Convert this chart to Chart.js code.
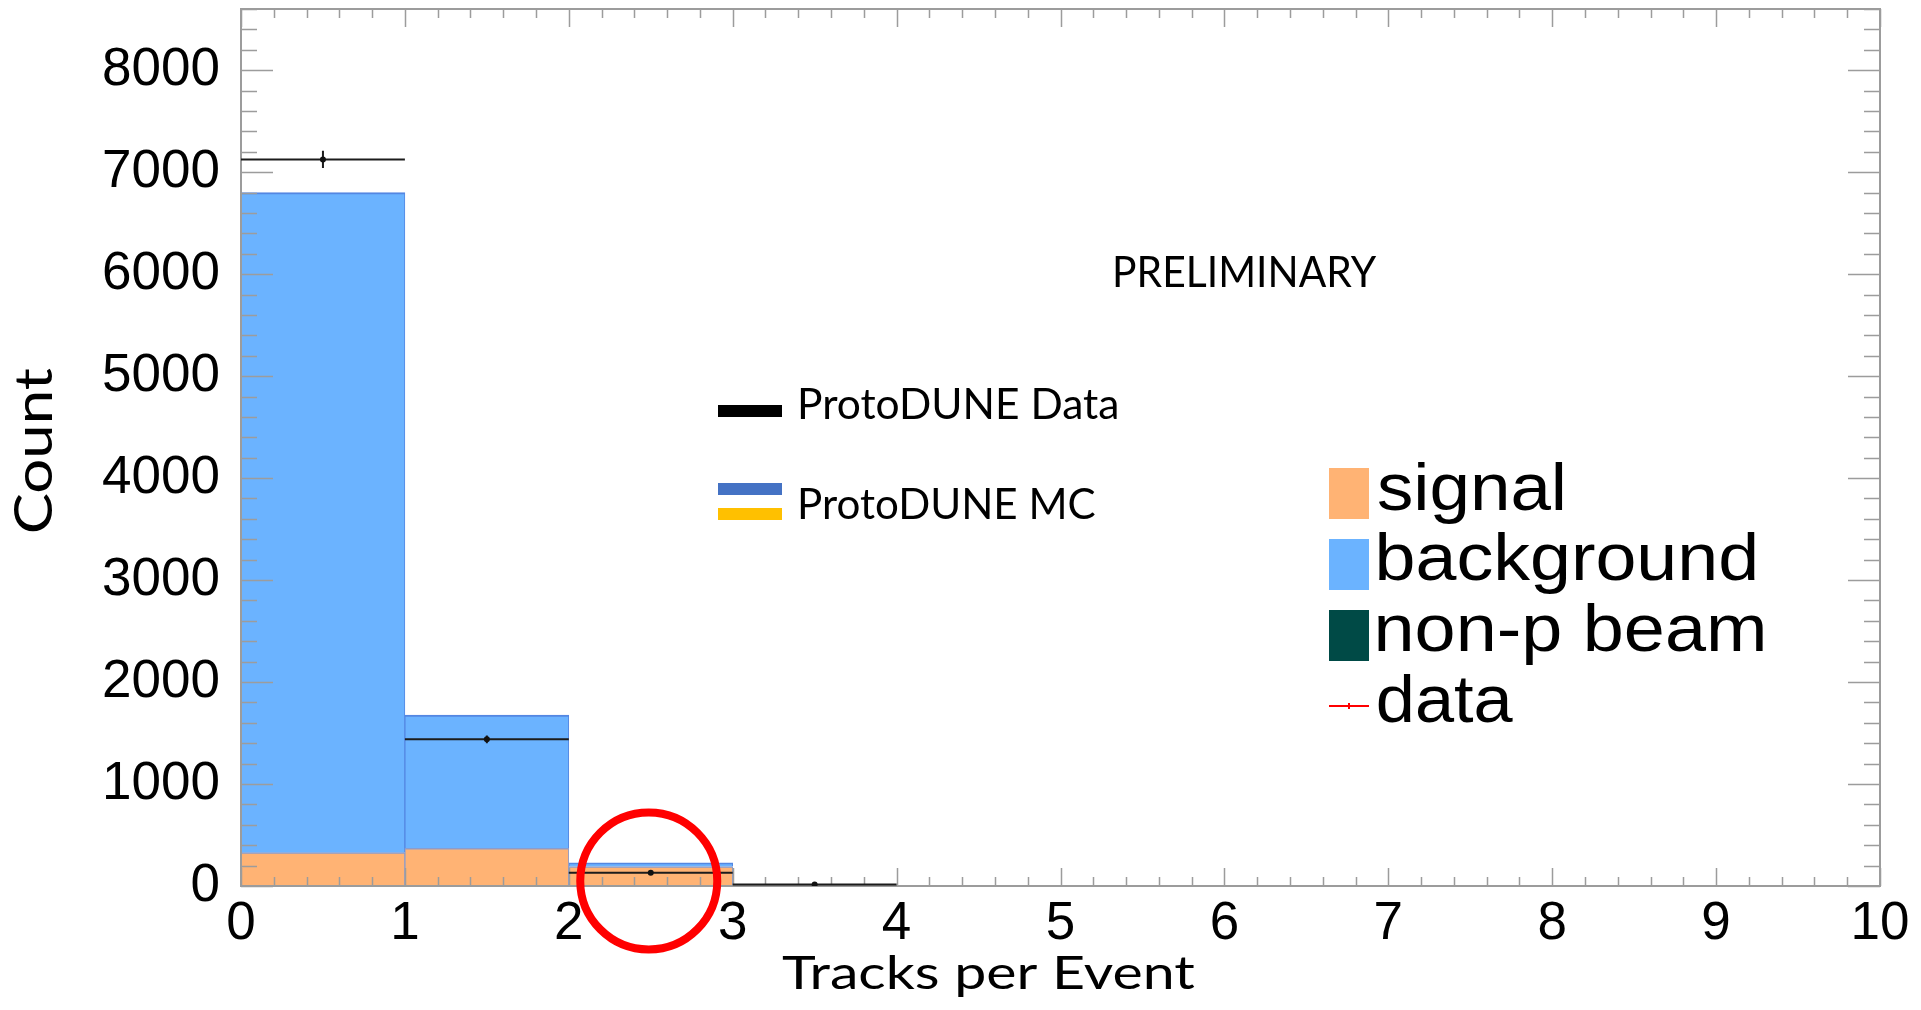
<!DOCTYPE html>
<html>
<head>
<meta charset="utf-8">
<title>Tracks per Event</title>
<script src="https://cdn.jsdelivr.net/npm/chart.js@4.4.1/dist/chart.umd.min.js"></script>
<style>
  html, body { margin: 0; padding: 0; background: #ffffff; overflow: hidden; }
  #wrap { position: absolute; left: 0; top: 0; width: 1921px; height: 1010px; }
</style>
</head>
<body>
<div id="wrap"><canvas id="c" width="1921" height="1010"></canvas></div>
<script>
// Histogram bins (tracks per event)
const binEdges = [0, 1, 2, 3, 4];

// Monte Carlo stack, counts per bin
const nonProtonBeamCounts = [0, 0, 0, 0];
const signalCounts = [327, 369, 190, 0];
const backgroundCounts = [6473, 1307, 38, 0];

// ProtoDUNE data, counts and statistical errors per bin
const dataCounts = [7125, 1438, 131, 15];
const dataErrors = [84, 38, 11, 4];

// Axis tick labels
const xTickLabels = ['0', '1', '2', '3', '4', '5', '6', '7', '8', '9', '10'];
const yTickLabels = ['0', '1000', '2000', '3000', '4000', '5000', '6000', '7000', '8000'];

const binCenters = binEdges.slice(0, -1).map((lo, i) => (lo + binEdges[i + 1]) / 2);
const asBars = (counts) => counts.map((v, i) => ({ x: binCenters[i], y: v }));

// Horizontal bars spanning each bin at the data value (gaps between bins)
const dataBinSegments = [];
dataCounts.forEach((v, i) => {
  dataBinSegments.push({ x: binEdges[i], y: v }, { x: binEdges[i + 1], y: v }, { x: binEdges[i + 1], y: null });
});
// Vertical error bars at bin centres
const dataErrorSegments = [];
dataCounts.forEach((v, i) => {
  dataErrorSegments.push({ x: binCenters[i], y: v - dataErrors[i] }, { x: binCenters[i], y: v + dataErrors[i] }, { x: binCenters[i], y: null });
});

const COLORS = {
  signal: '#ffb374',
  background: '#6bb3ff',
  nonp: '#004a46',
  axis: '#9c9c9c'
};

// Draws ink-fitted text: left edge of glyphs at `left`, baseline at `base`
function fitText(ctx, text, font, left, base, inkWidth) {
  ctx.save();
  ctx.font = font;
  ctx.textAlign = 'left';
  ctx.textBaseline = 'alphabetic';
  const m = ctx.measureText(text);
  const w = m.actualBoundingBoxLeft + m.actualBoundingBoxRight;
  ctx.translate(left, base);
  ctx.scale(inkWidth / w, 1);
  ctx.fillStyle = '#000';
  ctx.fillText(text, m.actualBoundingBoxLeft, 0);
  ctx.restore();
}

// ROOT-style frame with ticks on all four sides
function drawFrame(chart) {
  const { ctx, chartArea: a, scales: { x, y } } = chart;
  ctx.save();
  ctx.strokeStyle = COLORS.axis;
  ctx.lineWidth = 1.5;
  ctx.beginPath();
  for (let i = 0; i <= 50; i++) {
    const px = Math.round(x.getPixelForValue(i / 5)) + 0.5;
    const len = i % 5 === 0 ? 18 : 9;
    ctx.moveTo(px, a.top); ctx.lineTo(px, a.top + len);
    ctx.moveTo(px, a.bottom); ctx.lineTo(px, a.bottom - len);
  }
  for (let i = 0; i <= 43; i++) {
    const py = Math.round(y.getPixelForValue(i * 200)) + 0.5;
    const len = i % 5 === 0 ? 32 : 16;
    ctx.moveTo(a.left, py); ctx.lineTo(a.left + len, py);
    ctx.moveTo(a.right, py); ctx.lineTo(a.right - len, py);
  }
  ctx.stroke();
  ctx.lineWidth = 2;
  ctx.strokeRect(a.left, a.top, a.right - a.left, a.bottom - a.top);
  ctx.restore();
}

const framePlugin = {
  id: 'frame',
  afterDatasetDraw(chart, args) {
    if (chart.data.datasets[args.index].label === 'non-p beam') drawFrame(chart);
  }
};

const annotationPlugin = {
  id: 'annotations',
  afterDraw(chart) {
    const { ctx, scales: { x, y } } = chart;
    const calibri = (s) => `${s}px Lato, "Open Sans", sans-serif`;
    const helv = (s) => `${s}px "Liberation Sans", Arial, sans-serif`;

    // Axis titles
    fitText(ctx, 'Tracks per Event', calibri(47), 782, 989, 413);
    ctx.save();
    ctx.translate(52, 532);
    ctx.rotate(-Math.PI / 2);
    fitText(ctx, 'Count', calibri(53), 0, 0, 164);
    ctx.restore();

    fitText(ctx, 'PRELIMINARY', calibri(42), 1115, 287, 262);

    // ProtoDUNE key
    ctx.save();
    ctx.fillStyle = '#000000';
    ctx.fillRect(718, 405, 64, 12);
    ctx.fillStyle = '#4472c4';
    ctx.fillRect(718, 483, 64, 12);
    ctx.fillStyle = '#ffc000';
    ctx.fillRect(718, 508, 64, 12);
    ctx.restore();
    fitText(ctx, 'ProtoDUNE Data', calibri(43), 800, 419, 317);
    fitText(ctx, 'ProtoDUNE MC', calibri(43), 800, 519, 295);

    // Stack legend
    ctx.save();
    ctx.fillStyle = COLORS.signal;
    ctx.fillRect(1329, 468, 40, 51);
    ctx.fillStyle = COLORS.background;
    ctx.fillRect(1329, 539, 40, 51);
    ctx.fillStyle = COLORS.nonp;
    ctx.fillRect(1329, 610, 40, 51);
    ctx.strokeStyle = '#ff0000';
    ctx.lineWidth = 2;
    ctx.beginPath();
    ctx.moveTo(1329, 706); ctx.lineTo(1369, 706);
    ctx.moveTo(1349, 703); ctx.lineTo(1349, 709);
    ctx.stroke();
    ctx.restore();
    fitText(ctx, 'signal', helv(66), 1378, 510, 185);
    fitText(ctx, 'background', helv(66), 1379, 580, 376);
    fitText(ctx, 'non-p beam', helv(66), 1378, 651, 385);
    fitText(ctx, 'data', helv(66), 1378, 722, 135);

    // Highlight ring around the 2-track bin
    ctx.save();
    ctx.strokeStyle = '#ff0000';
    ctx.lineWidth = 8;
    ctx.beginPath();
    ctx.arc(x.getPixelForValue(2.5) - 2, y.getPixelForValue(50), 68.5, 0, Math.PI * 2);
    ctx.stroke();
    ctx.restore();
  }
};

const tickFont = { family: '"Liberation Sans", Arial, sans-serif', size: 53, lineHeight: 1 };

new Chart(document.getElementById('c'), {
  type: 'bar',
  data: {
    datasets: [
      {
        type: 'line', label: 'data points', data: asBars(dataCounts), yAxisID: 'yData',
        showLine: false, pointRadius: 3, pointBackgroundColor: '#111', pointBorderWidth: 0, order: 0
      },
      {
        type: 'line', label: 'data errors', data: dataErrorSegments, yAxisID: 'yData',
        borderColor: '#1c1c1c', borderWidth: 2, pointRadius: 0, spanGaps: false, order: 1
      },
      {
        type: 'line', label: 'data', data: dataBinSegments, yAxisID: 'yData',
        borderColor: '#1c1c1c', borderWidth: 2, pointRadius: 0, spanGaps: false, order: 2
      },
      {
        label: 'non-p beam', data: asBars(nonProtonBeamCounts), backgroundColor: COLORS.nonp,
        borderWidth: 0, order: 3
      },
      {
        label: 'signal', data: asBars(signalCounts), backgroundColor: COLORS.signal,
        borderColor: '#8b9ccc', borderWidth: { top: 1.5, left: 1, right: 1, bottom: 0 }, order: 4
      },
      {
        label: 'background', data: asBars(backgroundCounts), backgroundColor: COLORS.background,
        borderColor: '#5487e2', borderWidth: { top: 2, left: 1, right: 1, bottom: 0 }, order: 5
      }
    ]
  },
  options: {
    responsive: false,
    devicePixelRatio: 1,
    animation: false,
    events: [],
    barPercentage: 1,
    categoryPercentage: 1,
    layout: { padding: { left: 0, top: 9, right: 41, bottom: 0 } },
    plugins: { legend: { display: false }, tooltip: { enabled: false } },
    scales: {
      x: {
        type: 'linear', min: 0, max: 10, offset: false, stacked: true,
        grid: { display: false, drawTicks: false },
        border: { display: false },
        ticks: {
          autoSkip: false, maxRotation: 0, minRotation: 0, padding: 12, color: '#000', font: tickFont,
          callback: (v) => String(v)
        },
        afterBuildTicks(scale) { scale.ticks = xTickLabels.map((t) => ({ value: Number(t) })); },
        afterFit(scale) { scale.height = 124; scale.paddingLeft = 0; scale.paddingRight = 0; }
      },
      y: {
        type: 'linear', min: 0, max: 8600, stacked: true,
        grid: { display: false, drawTicks: false },
        border: { display: false },
        ticks: {
          autoSkip: false, padding: 21, color: '#000', font: tickFont,
          callback: (v) => String(v)
        },
        afterBuildTicks(scale) { scale.ticks = yTickLabels.map((t) => ({ value: Number(t) })); },
        afterFit(scale) { scale.width = 241; scale.paddingTop = 0; scale.paddingBottom = 0; }
      },
      yData: {
        type: 'linear', min: 0, max: 8600, display: false, stacked: false
      }
    }
  },
  plugins: [framePlugin, annotationPlugin]
});
</script>
</body>
</html>
